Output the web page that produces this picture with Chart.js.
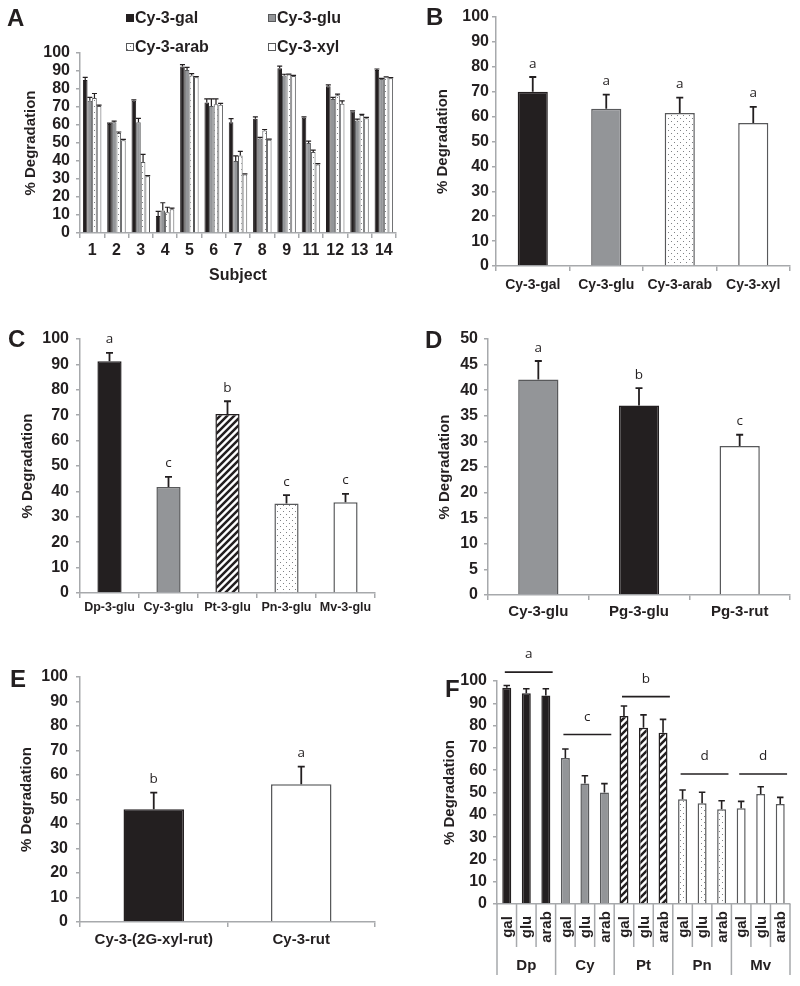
<!DOCTYPE html>
<html>
<head>
<meta charset="utf-8">
<script src="https://cdn.jsdelivr.net/npm/chart.js@4.4.1/dist/chart.umd.min.js"></script>
<style>
  html, body { margin: 0; padding: 0; background: #fff; }
  #fig { position: relative; width: 800px; height: 986px; }
  #fig canvas { position: absolute; }
</style>
</head>
<body>
<div id="fig">
  <canvas id="panelA" width="400" height="292" style="left:0;top:0"></canvas>
  <canvas id="panelB" width="400" height="300" style="left:400px;top:0"></canvas>
  <canvas id="panelC" width="400" height="320" style="left:0;top:300px"></canvas>
  <canvas id="panelD" width="400" height="320" style="left:400px;top:300px"></canvas>
  <canvas id="panelE" width="400" height="346" style="left:0;top:640px"></canvas>
  <canvas id="panelF" width="400" height="366" style="left:400px;top:620px"></canvas>
</div>
<script>
// ---- data ----
// A: per-subject degradation, upper error = SE
const subjects = ['1', '2', '3', '4', '5', '6', '7', '8', '9', '11', '12', '13', '14'];
const aGal     = [85, 60.5, 73.5, 9.5, 92.5, 72.5, 61.5, 63.5, 91.5, 64, 81.5, 67.5, 90.5];
const aGalErr  = [1.5, 0.5, 0.5, 2.5, 1, 2, 2, 1, 1.2, 0.5, 0.8, 0.4, 0.6];
const aGlu     = [73.5, 61.5, 61.5, 12.5, 90.5, 70.5, 40, 52.5, 87.5, 50, 74.5, 62.5, 85.5];
const aGluErr  = [1.8, 0.6, 2.2, 4.3, 1.5, 4, 2.8, 0.6, 0.7, 1, 0.8, 0.8, 0.4];
const aArab    = [75, 55.5, 39.5, 11.5, 87.5, 71.5, 43, 57, 88, 45, 76.5, 65.5, 86.5];
const aArabErr = [2.5, 0.6, 4.2, 2.8, 1, 3, 2.3, 0.5, 0.3, 1, 0.7, 0.4, 0.3];
const aXyl     = [70.5, 51.5, 31.5, 13.2, 86.5, 71.2, 32.5, 51.8, 87.2, 38, 71.8, 63.8, 86];
const aXylErr  = [0.5, 0.5, 0.4, 0.6, 0.4, 0.8, 0.4, 0.4, 0.4, 0.5, 1.6, 0.4, 0.3];

// B
const bLabels  = ['Cy-3-gal', 'Cy-3-glu', 'Cy-3-arab', 'Cy-3-xyl'];
const bValues  = [70, 63.2, 61.4, 57.4];
const bErr     = [5.9, 5.6, 6.2, 6.5];
const bLetters = ['a', 'a', 'a', 'a'];

// C
const cLabels  = ['Dp-3-glu', 'Cy-3-glu', 'Pt-3-glu', 'Pn-3-glu', 'Mv-3-glu'];
const cValues  = [91.2, 41.7, 70.5, 35.2, 35.7];
const cErr     = [3.3, 4, 5, 3.3, 3.3];
const cLetters = ['a', 'c', 'b', 'c', 'c'];

// D
const dLabels  = ['Cy-3-glu', 'Pg-3-glu', 'Pg-3-rut'];
const dValues  = [42.1, 37, 29.1];
const dErr     = [3.6, 3.4, 2.2];
const dLetters = ['a', 'b', 'c'];

// E
const eLabels  = ['Cy-3-(2G-xyl-rut)', 'Cy-3-rut'];
const eValues  = [46, 56.2];
const eErr     = [6.8, 7.2];
const eLetters = ['b', 'a'];

// F
const fLabels  = ['gal', 'glu', 'arab', 'gal', 'glu', 'arab', 'gal', 'glu', 'arab',
                  'gal', 'glu', 'arab', 'gal', 'glu', 'arab'];
const fGroups  = ['Dp', 'Cy', 'Pt', 'Pn', 'Mv'];
const fValues  = [97, 94.5, 93.5, 65.5, 54, 50, 84.3, 79, 76.8, 47, 45.2, 42.5, 42.9, 49.3, 44.8];
const fErr     = [1, 2, 3, 4, 3.5, 4, 4.5, 5.8, 6, 4.1, 4.9, 3.8, 3.1, 3.3, 3];
const fGroupLine    = [104, 76, 93, 58.3, 58.3];
const fGroupLetters = ['a', 'c', 'b', 'd', 'd'];

// ---- styles ----
const ink = '#231f20';
const axisGrey = '#a7a9ac';
const greyFill = '#939598';
const edge = '#58595b';
const sans = "'Liberation Sans', Arial, sans-serif";

Chart.defaults.font.family = sans;
Chart.defaults.color = ink;

function makePattern(size, draw) {
  const c = document.createElement('canvas');
  c.width = size; c.height = size;
  const g = c.getContext('2d');
  g.fillStyle = '#fff';
  g.fillRect(0, 0, size, size);
  draw(g, size);
  return g.createPattern(c, 'repeat');
}
const dots = makePattern(6, g => {
  g.fillStyle = '#808285';
  g.fillRect(1, 1, 1, 1);
  g.fillRect(4, 4, 1, 1);
});
const hatch = makePattern(7, (g, s) => {
  g.strokeStyle = ink;
  g.lineWidth = 2.5;
  g.beginPath();
  g.moveTo(-1, s + 1); g.lineTo(s + 1, -1);
  g.moveTo(-1, 1); g.lineTo(1, -1);
  g.moveTo(s - 1, s + 1); g.lineTo(s + 1, s - 1);
  g.stroke();
});

// ---- plugins ----
const errorBars = {
  id: 'errorBars',
  defaults: { lineWidth: 1.8, cap: 7 },
  afterDatasetsDraw(chart, args, o) {
    const { ctx } = chart;
    const y = chart.scales.y;
    chart.data.datasets.forEach((ds, di) => {
      if (!ds.errors) return;
      chart.getDatasetMeta(di).data.forEach((bar, i) => {
        const top = y.getPixelForValue(ds.data[i] + ds.errors[i]);
        ctx.save();
        ctx.strokeStyle = ink;
        ctx.lineWidth = o.lineWidth;
        ctx.beginPath();
        ctx.moveTo(bar.x, bar.y);
        ctx.lineTo(bar.x, top);
        ctx.moveTo(bar.x - o.cap / 2, top);
        ctx.lineTo(bar.x + o.cap / 2, top);
        ctx.stroke();
        if (ds.letters) {
          ctx.fillStyle = ink;
          ctx.font = "13.5px 'Open Sans', sans-serif";
          ctx.textAlign = 'center';
          ctx.textBaseline = 'alphabetic';
          ctx.fillText(ds.letters[i], bar.x, top - 9.5);
        }
        ctx.restore();
      });
    });
  }
};

const panelLetter = {
  id: 'panelLetter',
  afterDraw(chart, args, o) {
    if (!o.text) return;
    const ctx = chart.ctx;
    ctx.save();
    ctx.fillStyle = ink;
    ctx.font = 'bold 24px ' + sans;
    ctx.textBaseline = 'middle';
    ctx.fillText(o.text, o.x, o.y);
    ctx.restore();
  }
};

Chart.register(errorBars, panelLetter);

// legend for panel A, two rows of two
const gridLegend = {
  id: 'gridLegend',
  afterDraw(chart, args, o) {
    const ctx = chart.ctx;
    chart.data.datasets.forEach((ds, i) => {
      const [x, y] = o.spots[i];
      ctx.save();
      ctx.fillStyle = ds.backgroundColor;
      ctx.fillRect(x, y - 4, 8, 8);
      ctx.strokeStyle = ds.borderColor;
      ctx.lineWidth = 1;
      ctx.strokeRect(x + 0.5, y - 3.5, 7, 7);
      ctx.fillStyle = ink;
      ctx.font = 'bold 16px ' + sans;
      ctx.textBaseline = 'middle';
      ctx.fillText(ds.label, x + 9, y + 1);
      ctx.restore();
    });
  }
};

// two-level category axis for panel F
const groupedAxis = {
  id: 'groupedAxis',
  afterDraw(chart, args, o) {
    const { ctx } = chart;
    const x = chart.scales.x, y = chart.scales.y;
    const base = chart.chartArea.bottom;
    const n = chart.data.labels.length;
    const cw = (x.right - x.left) / n;
    ctx.save();
    ctx.strokeStyle = axisGrey;
    ctx.lineWidth = 1.5;
    ctx.beginPath();
    for (let i = 0; i <= n; i++) {
      const px = x.left + i * cw;
      ctx.moveTo(px, base);
      ctx.lineTo(px, base + (i % 3 === 0 ? o.groupDepth : o.innerDepth));
    }
    ctx.stroke();

    ctx.fillStyle = ink;
    ctx.textAlign = 'center';
    ctx.textBaseline = 'middle';
    ctx.font = 'bold 15px ' + sans;
    chart.data.labels.forEach((lab, i) => {
      ctx.save();
      ctx.translate(x.getPixelForValue(i), base + o.subMid);
      ctx.rotate(-Math.PI / 2);
      ctx.fillText(lab, 0, 1);
      ctx.restore();
    });
    ctx.font = 'bold 15px ' + sans;
    o.groups.forEach((g, k) => {
      const cx = (x.getPixelForValue(3 * k) + x.getPixelForValue(3 * k + 2)) / 2;
      ctx.fillText(g, cx, base + o.groupMid);
    });

    // significance lines over each group
    ctx.strokeStyle = ink;
    ctx.lineWidth = 1.6;
    ctx.font = "13.5px 'Open Sans', sans-serif";
    ctx.textBaseline = 'alphabetic';
    o.lines.forEach((v, k) => {
      const x0 = x.left + 3 * k * cw + 0.4 * cw;
      const x1 = x.left + 3 * (k + 1) * cw - 0.15 * cw;
      const py = y.getPixelForValue(v);
      ctx.beginPath();
      ctx.moveTo(x0, py);
      ctx.lineTo(x1, py);
      ctx.stroke();
      ctx.fillText(o.letters[k], (x0 + x1) / 2, py - 14);
    });
    ctx.restore();
  }
};

// ---- axis helpers ----
function yScale(o) {
  return {
    min: 0, max: o.max,
    ticks: {
      stepSize: o.step, padding: o.pad, color: ink, autoSkip: false,
      font: { size: o.font || 16, weight: 'bold' }
    },
    grid: { drawOnChartArea: false, tickLength: 4, color: axisGrey, lineWidth: 1.5 },
    border: { color: axisGrey, width: 1.5 },
    title: {
      display: true, text: '% Degradation', color: ink,
      font: { size: 15, weight: 'bold' }, padding: { top: o.titlePad, bottom: 0 }
    },
    afterFit(s) { s.width = o.width; }
  };
}

function xScale(o) {
  return {
    ticks: {
      display: o.size > 0, padding: o.pad, color: ink,
      font: { size: o.size, weight: 'bold' }, maxRotation: 0, autoSkip: false
    },
    grid: { display: o.size > 0, drawOnChartArea: false, offset: true, tickLength: 5, color: axisGrey, lineWidth: 1.5 },
    border: { display: true, color: axisGrey, width: 1.5 },
    title: o.title
      ? { display: true, text: o.title, color: ink, font: { size: 16, weight: 'bold' }, padding: { top: 0, bottom: o.titlePad } }
      : { display: false },
    afterFit(s) { s.height = o.height; }
  };
}

function options(pad, scales, plugins) {
  return {
    responsive: false,
    animation: false,
    devicePixelRatio: 1,
    layout: { padding: { left: 0, top: pad.top, right: pad.right, bottom: 0 } },
    datasets: { bar: { categoryPercentage: 1, barPercentage: pad.bar } },
    plugins: Object.assign({ legend: { display: false }, tooltip: { enabled: false } }, plugins),
    scales
  };
}

function single(values, errors, letters, fills, borders) {
  return {
    data: values, errors, letters,
    backgroundColor: fills, borderColor: borders, borderWidth: 1.5
  };
}

// ---- A ----
new Chart(document.getElementById('panelA'), {
  type: 'bar',
  data: {
    labels: subjects,
    datasets: [
      { label: 'Cy-3-gal', data: aGal, errors: aGalErr, backgroundColor: ink, borderColor: ink },
      { label: 'Cy-3-glu', data: aGlu, errors: aGluErr, backgroundColor: greyFill, borderColor: edge },
      { label: 'Cy-3-arab', data: aArab, errors: aArabErr, backgroundColor: dots, borderColor: edge },
      { label: 'Cy-3-xyl', data: aXyl, errors: aXylErr, backgroundColor: '#fff', borderColor: edge }
    ].map(d => Object.assign(d, { borderWidth: 1, categoryPercentage: 0.76, barPercentage: 1 }))
  },
  options: options({ top: 53, right: 4, bar: 1 }, {
    x: xScale({ size: 16, pad: 3, height: 59, title: 'Subject', titlePad: 7 }),
    y: yScale({ max: 100, step: 10, pad: 6, width: 80, titlePad: 22 })
  }, {
    errorBars: { lineWidth: 1.2, cap: 5 },
    panelLetter: { text: 'A', x: 7, y: 19 },
    gridLegend: { spots: [[126, 18], [268, 18], [126, 47], [268, 47]] }
  }),
  plugins: [gridLegend]
});

// ---- B ----
new Chart(document.getElementById('panelB'), {
  type: 'bar',
  data: {
    labels: bLabels,
    datasets: [single(bValues, bErr, bLetters, [ink, greyFill, dots, '#fff'], [ink, edge, edge, edge])]
  },
  options: options({ top: 17, right: 10, bar: 0.41 }, {
    x: xScale({ size: 14, pad: 6, height: 34 }),
    y: yScale({ max: 100, step: 10, pad: 3, width: 96, titlePad: 34 })
  }, { panelLetter: { text: 'B', x: 26, y: 18 } })
});

// ---- C ----
new Chart(document.getElementById('panelC'), {
  type: 'bar',
  data: {
    labels: cLabels,
    datasets: [single(cValues, cErr, cLetters, [ink, greyFill, hatch, dots, '#fff'], [ink, edge, ink, edge, edge])]
  },
  options: options({ top: 39, right: 25, bar: 0.41 }, {
    x: xScale({ size: 12.5, pad: 2.5, height: 27 }),
    y: yScale({ max: 100, step: 10, pad: 7, width: 80, titlePad: 19 })
  }, { panelLetter: { text: 'C', x: 8, y: 40 } })
});

// ---- D ----
new Chart(document.getElementById('panelD'), {
  type: 'bar',
  data: {
    labels: dLabels,
    datasets: [single(dValues, dErr, dLetters, [greyFill, ink, '#fff'], [edge, ink, edge])]
  },
  options: options({ top: 39, right: 10, bar: 0.4 }, {
    x: xScale({ size: 15, pad: 3, height: 25 }),
    y: yScale({ max: 50, step: 5, pad: 6, width: 88, titlePad: 36 })
  }, { panelLetter: { text: 'D', x: 25, y: 41 } })
});

// ---- E ----
new Chart(document.getElementById('panelE'), {
  type: 'bar',
  data: {
    labels: eLabels,
    datasets: [single(eValues, eErr, eLetters, [ink, '#fff'], [ink, edge])]
  },
  options: options({ top: 37, right: 25, bar: 0.41 }, {
    x: xScale({ size: 15, pad: 4, height: 64 }),
    y: yScale({ max: 100, step: 10, pad: 8, width: 80, titlePad: 18 })
  }, { panelLetter: { text: 'E', x: 10, y: 40 } })
});

// ---- F ----
const fFillByGroup = [ink, greyFill, hatch, dots, '#fff'];
const fEdgeByGroup = [ink, edge, ink, edge, edge];
new Chart(document.getElementById('panelF'), {
  type: 'bar',
  data: {
    labels: fLabels,
    datasets: [single(fValues, fErr, null,
      fLabels.map((_, i) => fFillByGroup[Math.floor(i / 3)]),
      fLabels.map((_, i) => fEdgeByGroup[Math.floor(i / 3)]))]
  },
  options: options({ top: 61, right: 10, bar: 0.46 }, {
    x: xScale({ size: 0, pad: 0, height: 82 }),
    y: yScale({ max: 100, step: 10, pad: 6, width: 97, titlePad: 41 })
  }, {
    errorBars: { lineWidth: 1.6, cap: 6.5 },
    panelLetter: { text: 'F', x: 45, y: 70 },
    groupedAxis: {
      groups: fGroups, lines: fGroupLine, letters: fGroupLetters,
      innerDepth: 43, groupDepth: 71, subMid: 23, groupMid: 62
    }
  }),
  plugins: [groupedAxis]
});
</script>
</body>
</html>
